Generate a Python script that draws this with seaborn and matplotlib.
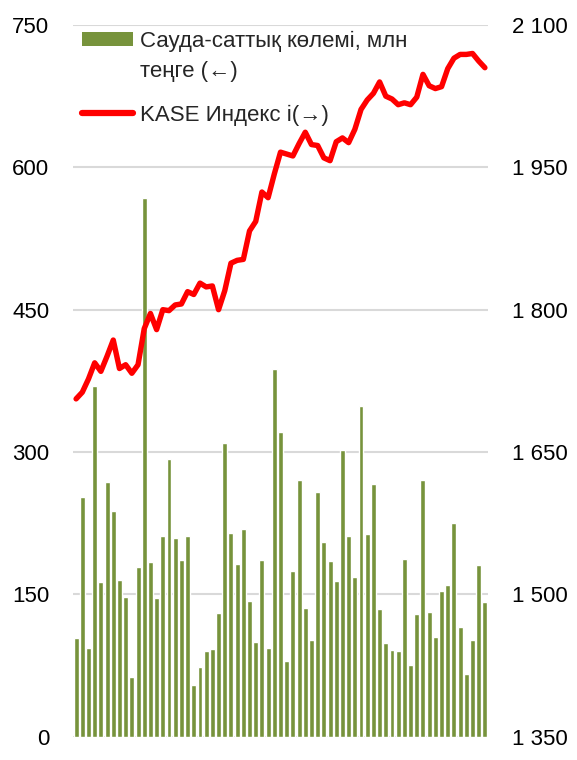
import numpy as np
import pandas as pd
import matplotlib
matplotlib.use("Agg")
import matplotlib.pyplot as plt
import seaborn as sns
from matplotlib.patches import Patch
from matplotlib.lines import Line2D

# Trading volume, mln tenge (left axis)
volume = [104, 253, 94, 370, 163, 268, 238, 165, 147, 63,
          179, 568, 184, 146, 212, 293, 209, 186, 211, 54,
          73, 90, 92, 130, 310, 215, 182, 219, 143, 100,
          186, 94, 387, 321, 80, 175, 271, 136, 102, 258,
          205, 185, 164, 302, 211, 168, 348, 214, 266, 135,
          99, 91, 90, 187, 76, 129, 270, 131, 105, 154,
          160, 225, 116, 66, 102, 181, 142]

# KASE index (right axis)
kase = [1706, 1713, 1727, 1744, 1735, 1751, 1768, 1738, 1742, 1733,
        1742, 1780, 1796, 1779, 1800, 1799, 1805, 1806, 1819, 1816,
        1828, 1824, 1825, 1800, 1820, 1849, 1852, 1853, 1883, 1893,
        1924, 1918, 1943, 1966, 1964, 1962, 1975, 1987, 1974, 1973,
        1960, 1957, 1977, 1981, 1976, 1990, 2011, 2021, 2028, 2040,
        2025, 2022, 2016, 2018, 2016, 2024, 2048, 2036, 2033, 2035,
        2054, 2065, 2069, 2069, 2070, 2062, 2055]

left_ticks = [0, 150, 300, 450, 600, 750]
right_ticks = [1350, 1500, 1650, 1800, 1950, 2100]
right_labels = ["1 350", "1 500", "1 650", "1 800", "1 950", "2 100"]
label_vol_1 = "Сауда-саттық көлемі, млн"
label_vol_2 = "теңге (←)"
label_kase = "KASE Индекс і(→)"

sns.set_theme(style="white")
plt.rcParams['font.family'] = ['Liberation Sans', 'DejaVu Sans']

bar_color = "#77933C"
line_color = "#FF0000"
grid_color = "#D9D9D9"

df = pd.DataFrame({"i": np.arange(len(volume)), "vol": volume, "kase": kase})

fig = plt.figure(figsize=(5.77, 7.6), dpi=100)
ax = fig.add_axes([73 / 577, 1 - 736.7 / 760, (488 - 73) / 577, (736.7 - 25) / 760])

sns.barplot(data=df, x="i", y="vol", color=bar_color, saturation=1, width=0.8,
            ax=ax, native_scale=True)
ax.set_xlim(-0.5, len(volume) - 0.5)
ax.set_ylim(0, 750)
ax.set_yticks(left_ticks)
ax.set_yticklabels([str(t) for t in left_ticks])
ax.set_axisbelow(True)
ax.yaxis.grid(True, color=grid_color, linewidth=1.5)
ax.xaxis.grid(False)
ax.set_xticks([])
ax.set_xlabel("")
ax.set_ylabel("")
for s in ax.spines.values():
    s.set_visible(False)
ax.tick_params(axis="y", length=0, pad=17, labelsize=16, labelcolor="black")

ax2 = ax.twinx()
sns.lineplot(data=df, x="i", y="kase", color=line_color, linewidth=3.9, ax=ax2)
ax2.set_xlim(-0.5, len(volume) - 0.5)
ax2.set_ylim(1350, 2100)
ax2.set_yticks(right_ticks)
ax2.set_yticklabels(right_labels)
ax2.set_xlabel("")
ax2.set_ylabel("")
ax2.grid(False)
for s in ax2.spines.values():
    s.set_visible(False)
ax2.tick_params(axis="y", length=0, pad=17, labelsize=16, labelcolor="black")

leg_kw = dict(loc="center left", frameon=False, fontsize=16, handlelength=2.3,
              handleheight=0.58, handletextpad=0.32, borderaxespad=0, borderpad=0)
x_anchor = 9 / 415

def ypos(pix):
    return 1 - (pix - 25) / 711.7

h_patch = Patch(facecolor=bar_color, edgecolor="none")
h_blank = Patch(facecolor="none", edgecolor="none")
h_line = Line2D([0], [0], color=line_color, linewidth=4.5, solid_capstyle="round")

leg1 = ax2.legend([h_patch], [label_vol_1], bbox_to_anchor=(x_anchor, ypos(41)), **leg_kw)
ax2.add_artist(leg1)
leg2 = ax2.legend([h_blank], [label_vol_2], bbox_to_anchor=(x_anchor, ypos(72)), **leg_kw)
ax2.add_artist(leg2)
leg3 = ax2.legend([h_line], [label_kase], bbox_to_anchor=(x_anchor, ypos(115)), **leg_kw)

fig.savefig("out.png", dpi=100)
